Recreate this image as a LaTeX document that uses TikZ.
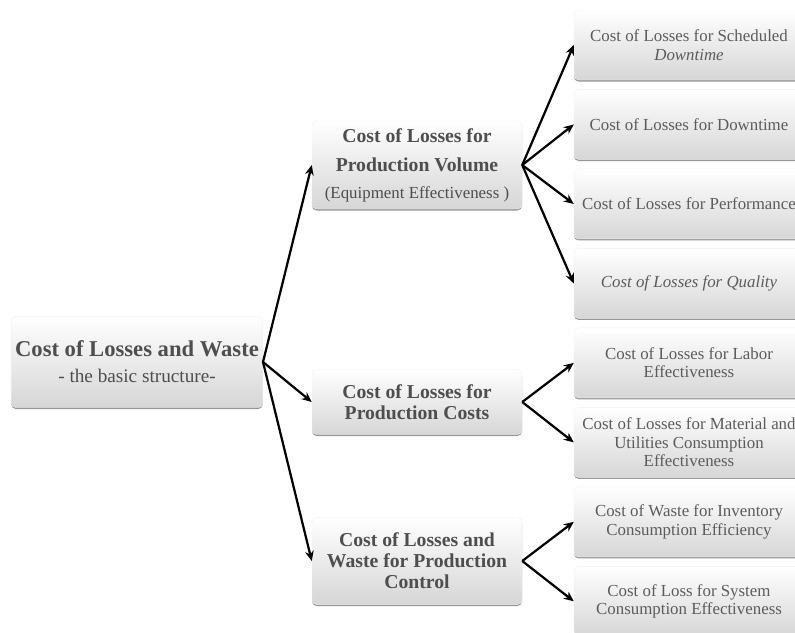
\documentclass[tikz,border=0pt]{standalone}
\usepackage{fontspec}
\setmainfont{Liberation Serif}
\usetikzlibrary{positioning,arrows.meta,shadows}
\definecolor{InkGray}{RGB}{78,78,78}
\definecolor{LeafInk}{RGB}{92,92,92}
\definecolor{ShadeBottom}{RGB}{214,214,214}
\definecolor{EdgeGray}{RGB}{150,150,150}
\tikzset{
  flow/.style={-{Stealth[length=3mm,width=2.6mm]},line width=1.9pt,draw=black},
  card/.style={rounded corners=4pt,top color=white,bottom color=ShadeBottom,
    draw=black!6,text=InkGray,align=center,
    drop shadow={shadow xshift=0pt,shadow yshift=-1.3pt,fill=EdgeGray,opacity=1}},
  rootbox/.style={card,minimum width=7.5cm,minimum height=2.73cm},
  midbox/.style={card,minimum width=6.3cm,font=\fontsize{16.8}{18}\selectfont\bfseries},
  leafbox/.style={card,text=LeafInk,minimum width=6.9cm,minimum height=2.1cm,
    font=\fontsize{14.4}{15.6}\selectfont}
}
\begin{document}
\begin{tikzpicture}[x=0.03cm,y=-0.03cm]
  \useasboundingbox (0,0) rectangle (795,632);
  \clip (0,0) rectangle (795,632);
  % root
  \node[rootbox] (root) at (137,362) {{\fontsize{19.3}{22}\selectfont\bfseries Cost of Losses and Waste}\\[10pt]
    {\fontsize{16.4}{17}\selectfont - the basic structure-}};
  % middle column
  \node[midbox,minimum height=2.64cm] (vol) at (417,165) {Cost of Losses for\\[7pt] Production Volume\\[5pt]
    {\mdseries\fontsize{14.4}{16}\selectfont (Equipment Effectiveness )}};
  \node[midbox,minimum height=1.95cm] (costs) at (417,402) {Cost of Losses for\\ Production Costs};
  \node[midbox,minimum height=2.61cm] (ctrl) at (417,561) {Cost of Losses and\\ Waste for Production\\ Control};
  % right column
  \node[leafbox] (sched) at (689,45) {Cost of Losses for Scheduled\\ \textit{Downtime}};
  \node[leafbox,below=0.27cm of sched] (down) {Cost of Losses for Downtime};
  \node[leafbox,below=0.27cm of down] (perf) {Cost of Losses for Performance};
  \node[leafbox,below=0.27cm of perf] (qual) {\textit{Cost of Losses for Quality}};
  \node[leafbox,below=0.27cm of qual] (labor) {Cost of Losses for Labor\\ Effectiveness};
  \node[leafbox,below=0.27cm of labor] (matl) {Cost of Losses for Material and\\ Utilities Consumption\\ Effectiveness};
  \node[leafbox,below=0.27cm of matl] (inv) {Cost of Waste for Inventory\\ Consumption Efficiency};
  \node[leafbox,below=0.27cm of inv] (sys) {Cost of Loss for System\\ Consumption Effectiveness};
  % arrows
  \draw[flow] (root.east) -- (vol.west);
  \draw[flow] (root.east) -- (costs.west);
  \draw[flow] (root.east) -- (ctrl.west);
  \draw[flow] (vol.east) -- (sched.west);
  \draw[flow] (vol.east) -- (down.west);
  \draw[flow] (vol.east) -- (perf.west);
  \draw[flow] (vol.east) -- (qual.west);
  \draw[flow] (costs.east) -- (labor.west);
  \draw[flow] (costs.east) -- (matl.west);
  \draw[flow] (ctrl.east) -- (inv.west);
  \draw[flow] (ctrl.east) -- (sys.west);
\end{tikzpicture}
\end{document}
